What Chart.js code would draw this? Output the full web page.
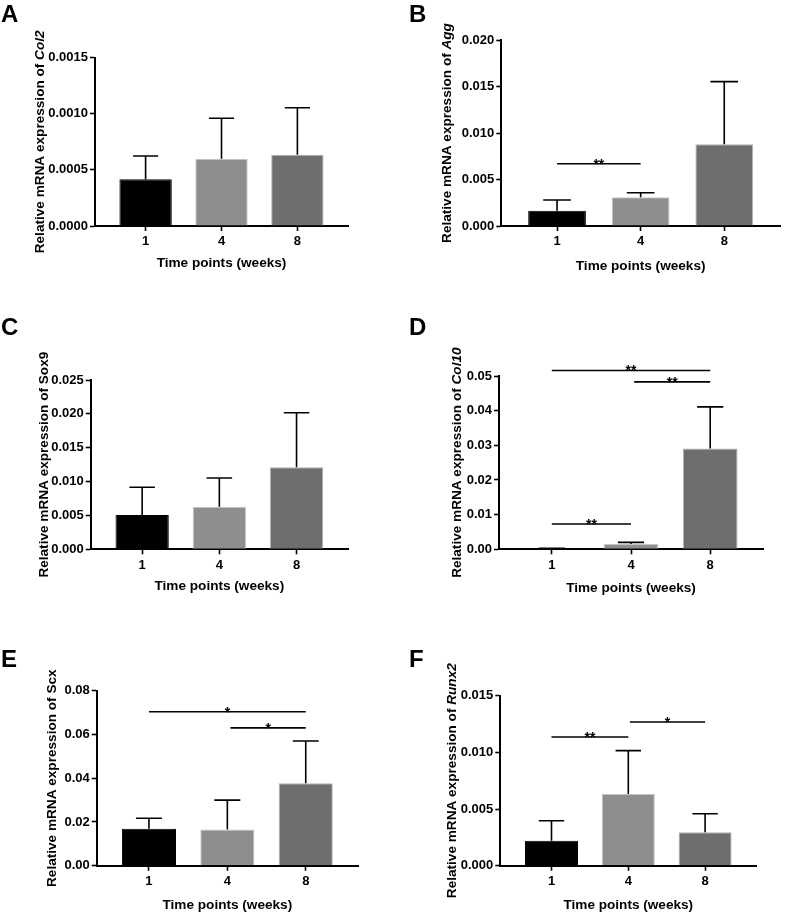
<!DOCTYPE html>
<html>
<head>
<meta charset="utf-8">
<script src="https://cdn.jsdelivr.net/npm/chart.js@4.4.1/dist/chart.umd.min.js"></script>
<style>
    body { margin: 0; background: #fff; }
    #page { position: relative; width: 787px; height: 914px; font-family: "Liberation Sans", Arial, sans-serif; }
    .panel { position: absolute; }
    .lettre { position: absolute; font: bold 24px "Liberation Sans", Arial, sans-serif; color: #000; }
</style>
</head>
<body>
<div id="page">
    <div class="panel" style="left:0;top:0;width:393px;height:300px"><canvas id="chartA"></canvas></div>
    <div class="panel" style="left:393px;top:0;width:394px;height:300px"><canvas id="chartB"></canvas></div>
    <div class="panel" style="left:0;top:300px;width:393px;height:300px"><canvas id="chartC"></canvas></div>
    <div class="panel" style="left:393px;top:300px;width:394px;height:300px"><canvas id="chartD"></canvas></div>
    <div class="panel" style="left:0;top:600px;width:393px;height:314px"><canvas id="chartE"></canvas></div>
    <div class="panel" style="left:393px;top:600px;width:394px;height:314px"><canvas id="chartF"></canvas></div>
    <div class="lettre" style="left:1px;top:0px">A</div>
    <div class="lettre" style="left:409px;top:0px">B</div>
    <div class="lettre" style="left:1px;top:313px">C</div>
    <div class="lettre" style="left:409px;top:313px">D</div>
    <div class="lettre" style="left:1px;top:645px">E</div>
    <div class="lettre" style="left:409px;top:645px">F</div>
</div>
<script>
// semaines
const semaines = ["1", "4", "8"];
const couleurs = ["#000000", "#8e8e8e", "#6e6e6e"];
const bordures = ["#000000", "#c4c4c4", "#b0b0b0"];

// moyennes et ecarts (barre d'erreur vers le haut)
const moyA = [0.000416, 0.0006, 0.000636];
const errA = [0.000208, 0.00036, 0.000418];
const moyB = [0.00165, 0.00308, 0.00878];
const errB = [0.00115, 0.0005, 0.00674];
const moyC = [0.00507, 0.00629, 0.0121];
const errC = [0.00409, 0.00424, 0.00807];
const moyD = [0.0002, 0.0015, 0.0291];
const errD = [0.0001, 0.0005, 0.012];
const moyE = [0.0169, 0.0166, 0.0377];
const errE = [0.0048, 0.0134, 0.0193];
const moyF = [0.0022, 0.00632, 0.00295];
const errF = [0.00177, 0.00383, 0.00164];

// significativite : [de, a, hauteur, texte]
const sigA = [];
const sigB = [[0, 1, 0.0067, "**"]];
const sigC = [];
const sigD = [[0, 2, 0.0516, "**"], [1.04, 2, 0.0483, "**"], [0, 1, 0.0073, "**"]];
const sigE = [[0, 2, 0.0704, "*"], [1.04, 2, 0.063, "*"]];
const sigF = [[0, 1, 0.01136, "**"], [1.02, 2, 0.01268, "*"]];

// axes y : max, pas, decimales
const maxY = { A: 0.0015, B: 0.02, C: 0.025, D: 0.05, E: 0.08, F: 0.015 };
const pasY = { A: 0.0005, B: 0.005, C: 0.005, D: 0.01, E: 0.02, F: 0.005 };
const decY = { A: 4, B: 3, C: 3, D: 2, E: 2, F: 3 };

const genes = { A: "Col2", B: "Agg", C: "Sox9", D: "Col10", E: "Scx", F: "Runx2" };
const italique = { A: true, B: true, C: false, D: true, E: false, F: true };

const police = "'Liberation Sans', Arial, sans-serif";

const pluginErreurs = {
    id: "erreurs",
    afterDatasetsDraw(chart) {
        const ctx = chart.ctx;
        const y = chart.scales.y;
        const meta = chart.getDatasetMeta(0);
        const ds = chart.data.datasets[0];
        ctx.save();
        ctx.strokeStyle = "#000";
        ctx.lineWidth = 1.6;
        meta.data.forEach((bar, i) => {
            const haut = y.getPixelForValue(ds.data[i].y + ds.erreurs[i]);
            const bas = y.getPixelForValue(ds.data[i].y);
            const demi = bar.width * 0.24;
            ctx.beginPath();
            ctx.moveTo(bar.x, bas);
            ctx.lineTo(bar.x, haut);
            ctx.moveTo(bar.x - demi, haut);
            ctx.lineTo(bar.x + demi, haut);
            ctx.stroke();
        });
        // lignes de significativite
        const x = chart.scales.x;
        ctx.fillStyle = "#000";
        ctx.font = "bold 14px " + police;
        ctx.textAlign = "center";
        ctx.textBaseline = "alphabetic";
        chart.options.plugins.erreurs.sig.forEach(s => {
            const x1 = x.getPixelForValue(s[0]);
            const x2 = x.getPixelForValue(s[1]);
            const yy = y.getPixelForValue(s[2]);
            ctx.beginPath();
            ctx.moveTo(x1, yy);
            ctx.lineTo(x2, yy);
            ctx.stroke();
            ctx.fillText(s[3], (x1 + x2) / 2, yy + 5);
        });
        ctx.restore();
    }
};

const pluginTitreY = {
    id: "titreY",
    afterDraw(chart) {
        const opts = chart.options.plugins.titreY;
        const ctx = chart.ctx;
        const a = chart.chartArea;
        const debut = "Relative mRNA expression of ";
        ctx.save();
        ctx.translate(opts.x, (a.top + a.bottom) / 2);
        ctx.rotate(-Math.PI / 2);
        ctx.fillStyle = "#000";
        ctx.textBaseline = "middle";
        ctx.textAlign = "left";
        const f1 = "bold 13.6px " + police;
        const f2 = (opts.italique ? "italic " : "") + "bold 13.6px " + police;
        ctx.font = f1;
        const w1 = ctx.measureText(debut).width;
        ctx.font = f2;
        const w2 = ctx.measureText(opts.gene).width;
        const x0 = -(w1 + w2) / 2;
        ctx.font = f1;
        ctx.fillText(debut, x0, 0);
        ctx.font = f2;
        ctx.fillText(opts.gene, x0 + w1, 0);
        ctx.restore();
    }
};

// zone de trace dans chaque canvas : gauche, haut, droite, bas, centre titre y, ecart titre x
const zones = {
    A: { l: 95, t: 57.7, r: 348, b: 226, h: 300, w: 393, ty: 40, tx: 37 },
    B: { l: 108.3, t: 40, r: 387, b: 226, h: 300, w: 394, ty: 54, tx: 40.7 },
    C: { l: 90.7, t: 80, r: 348, b: 249.3, h: 300, w: 393, ty: 44, tx: 37.4 },
    D: { l: 106, t: 76, r: 370, b: 249.3, h: 300, w: 394, ty: 64, tx: 39 },
    E: { l: 96.7, t: 90.7, r: 358, b: 265.7, h: 314, w: 393, ty: 52.5, tx: 39.3 },
    F: { l: 107.3, t: 95.7, r: 363.3, b: 265.7, h: 314, w: 394, ty: 59, tx: 39.3 }
};

function creerGraphique(cle, moyennes, erreurs, sig) {
    const z = zones[cle];
    const hautX = z.h - z.b;
    new Chart(document.getElementById("chart" + cle), {
        type: "bar",
        data: {
            datasets: [{
                data: moyennes.map((v, i) => ({ x: i, y: v })),
                erreurs: erreurs,
                backgroundColor: couleurs,
                borderColor: bordures,
                borderWidth: 1,
                categoryPercentage: 1,
                barPercentage: 0.69
            }]
        },
        options: {
            responsive: true,
            maintainAspectRatio: false,
            animation: false,
            layout: { padding: { top: z.t, right: z.w - z.r, left: 0, bottom: 0 } },
            plugins: {
                legend: { display: false },
                tooltip: { enabled: false },
                erreurs: { sig: sig },
                titreY: { x: z.ty, gene: genes[cle], italique: italique[cle] }
            },
            scales: {
                x: {
                    type: "linear",
                    min: -2 / 3,
                    max: 2 + 2 / 3,
                    offset: false,
                    afterBuildTicks: s => { s.ticks = semaines.map((_, i) => ({ value: i })); },
                    afterFit: s => { s.height = hautX; },
                    ticks: {
                        padding: 3,
                        autoSkip: false,
                        color: "#000",
                        font: { family: police, size: 13, weight: "bold" },
                        callback: v => semaines[v]
                    },
                    grid: { offset: false, drawOnChartArea: false, color: "#000", tickColor: "#000", tickLength: 5, tickWidth: 1.6 },
                    border: { color: "#000", width: 2 },
                    title: {
                        display: true,
                        text: "Time points (weeks)",
                        color: "#000",
                        font: { family: police, size: 13.6, weight: "bold" },
                        padding: { top: 0, bottom: hautX - z.tx - 8.2 }
                    }
                },
                y: {
                    min: 0,
                    max: maxY[cle],
                    afterFit: s => { s.width = z.l; },
                    ticks: {
                        stepSize: pasY[cle],
                        padding: 2,
                        color: "#000",
                        font: { family: police, size: 13, weight: "bold" },
                        callback: v => v.toFixed(decY[cle])
                    },
                    grid: { drawOnChartArea: false, color: "#000", tickColor: "#000", tickLength: 5, tickWidth: 1.6 },
                    border: { color: "#000", width: 2 }
                }
            }
        },
        plugins: [pluginErreurs, pluginTitreY]
    });
}

creerGraphique("A", moyA, errA, sigA);
creerGraphique("B", moyB, errB, sigB);
creerGraphique("C", moyC, errC, sigC);
creerGraphique("D", moyD, errD, sigD);
creerGraphique("E", moyE, errE, sigE);
creerGraphique("F", moyF, errF, sigF);
</script>
</body>
</html>
